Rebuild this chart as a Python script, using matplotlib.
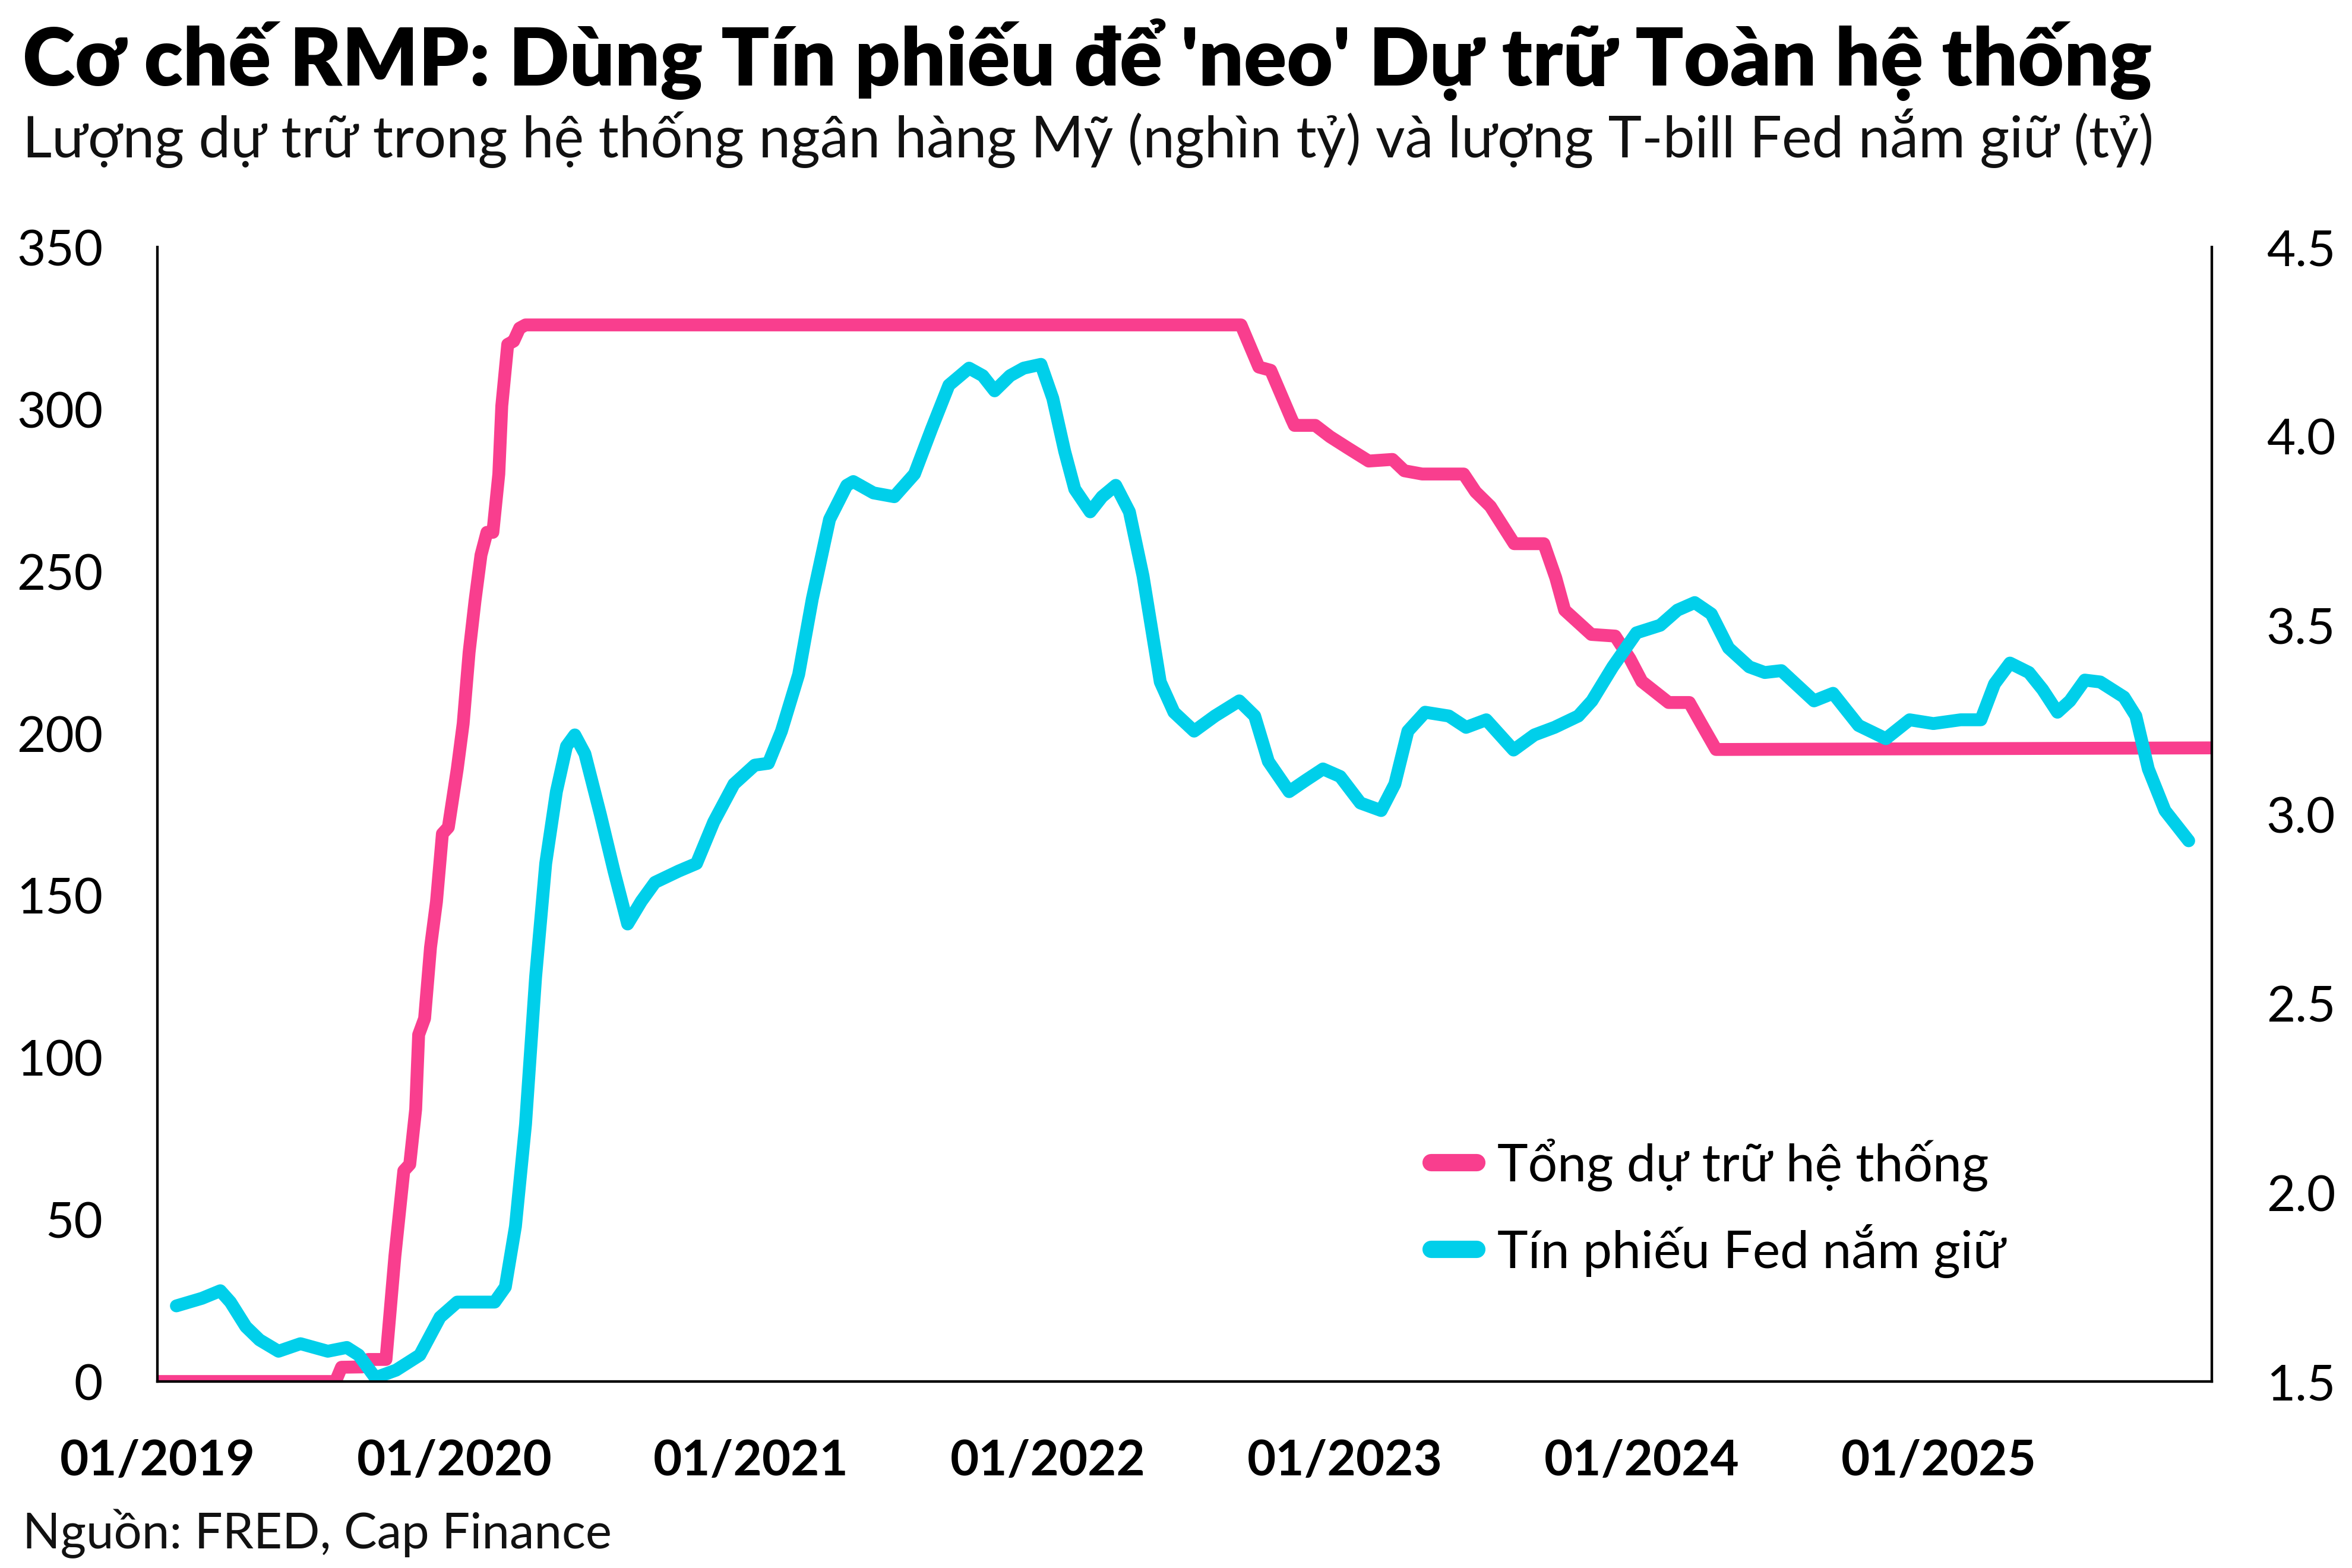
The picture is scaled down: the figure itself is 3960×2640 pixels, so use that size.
import matplotlib
matplotlib.use("Agg")
import matplotlib.pyplot as plt
from matplotlib.lines import Line2D

# --- data ---
# decimal year -> total reserves (left axis)
reserve_years = [2019.00, 2019.60, 2019.62, 2019.69, 2019.71, 2019.77, 2019.80, 2019.83,
                 2019.85, 2019.87, 2019.88, 2019.90, 2019.92, 2019.94, 2019.96, 2019.98,
                 2020.01, 2020.03, 2020.05, 2020.07, 2020.09, 2020.11, 2020.13, 2020.15,
                 2020.16, 2020.18, 2020.20, 2020.22, 2020.24, 2022.65, 2022.71, 2022.75,
                 2022.82, 2022.83, 2022.90, 2022.95, 2023.01, 2023.08, 2023.16, 2023.20,
                 2023.26, 2023.40, 2023.44, 2023.49, 2023.57, 2023.67, 2023.71, 2023.74,
                 2023.83, 2023.91, 2023.96, 2024.00, 2024.09, 2024.16, 2024.20, 2024.25,
                 2025.92]
reserve_vals = [0, 0, 4.4, 4.5, 6.8, 6.8, 38.7, 65,
                67, 84, 107, 112, 134, 148, 169, 171,
                189, 203, 225, 241, 255, 262, 262, 280,
                301, 320, 321, 325, 326, 326, 313, 312,
                297, 295, 295, 291.5, 288, 284, 284.5, 281,
                280, 280, 274.5, 270, 258.5, 258.5, 248, 238,
                230.5, 230, 223, 216, 209.5, 209.5, 203, 195,
                195.5]

# decimal year -> T-bills held by Fed (right axis)
tbill_years = [2019.064, 2019.150, 2019.212, 2019.246, 2019.298, 2019.344, 2019.408, 2019.482,
               2019.574, 2019.638, 2019.678, 2019.734, 2019.804, 2019.884, 2019.952, 2020.010,
               2020.080, 2020.136, 2020.172, 2020.206, 2020.240, 2020.274, 2020.308, 2020.344,
               2020.378, 2020.406, 2020.440, 2020.492, 2020.538, 2020.584, 2020.630, 2020.676,
               2020.756, 2020.816, 2020.874, 2020.942, 2021.012, 2021.058, 2021.102, 2021.160,
               2021.206, 2021.264, 2021.322, 2021.344, 2021.412, 2021.482, 2021.550, 2021.608,
               2021.666, 2021.734, 2021.780, 2021.820, 2021.872, 2021.918, 2021.976, 2022.016,
               2022.056, 2022.090, 2022.142, 2022.182, 2022.228, 2022.274, 2022.320, 2022.378,
               2022.424, 2022.492, 2022.562, 2022.644, 2022.696, 2022.742, 2022.812, 2022.868,
               2022.926, 2022.984, 2023.052, 2023.122, 2023.168, 2023.212, 2023.270, 2023.350,
               2023.408, 2023.476, 2023.522, 2023.568, 2023.638, 2023.706, 2023.786, 2023.832,
               2023.902, 2023.982, 2024.062, 2024.120, 2024.178, 2024.234, 2024.292, 2024.362,
               2024.414, 2024.470, 2024.580, 2024.644, 2024.730, 2024.822, 2024.902, 2024.982,
               2025.074, 2025.142, 2025.188, 2025.240, 2025.304, 2025.350, 2025.400, 2025.442,
               2025.492, 2025.544, 2025.624, 2025.664, 2025.706, 2025.762, 2025.842]
tbill_vals = [1.70, 1.72, 1.74, 1.71, 1.645, 1.61, 1.58, 1.60,
              1.58, 1.59, 1.57, 1.51, 1.53, 1.57, 1.67, 1.71,
              1.71, 1.71, 1.75, 1.91, 2.18, 2.57, 2.87, 3.06,
              3.18, 3.21, 3.16, 3.00, 2.85, 2.71, 2.77, 2.82,
              2.85, 2.87, 2.98, 3.08, 3.13, 3.135, 3.22, 3.37,
              3.57, 3.78, 3.87, 3.88, 3.85, 3.84, 3.90, 4.02,
              4.135, 4.18, 4.16, 4.12, 4.16, 4.18, 4.19, 4.10,
              3.96, 3.86, 3.80, 3.84, 3.87, 3.80, 3.63, 3.35,
              3.27, 3.22, 3.26, 3.30, 3.26, 3.14, 3.06, 3.09,
              3.12, 3.10, 3.03, 3.01, 3.08, 3.22, 3.27, 3.26,
              3.23, 3.25, 3.21, 3.17, 3.21, 3.23, 3.26, 3.30,
              3.39, 3.48, 3.50, 3.54, 3.56, 3.53, 3.44, 3.39,
              3.375, 3.38, 3.30, 3.32, 3.235, 3.20, 3.25, 3.24,
              3.25, 3.25, 3.345, 3.40, 3.375, 3.33, 3.27, 3.30,
              3.355, 3.35, 3.31, 3.26, 3.12, 3.01, 2.93]

year_ticks = [2019, 2020, 2021, 2022, 2023, 2024, 2025]
year_labels = ["01/2019", "01/2020", "01/2021", "01/2022", "01/2023", "01/2024", "01/2025"]
left_ticks = [0, 50, 100, 150, 200, 250, 300, 350]
right_ticks = [1.5, 2.0, 2.5, 3.0, 3.5, 4.0, 4.5]

title = "Cơ chế RMP: Dùng Tín phiếu để 'neo' Dự trữ Toàn hệ thống"
subtitle = "Lượng dự trữ trong hệ thống ngân hàng Mỹ (nghìn tỷ) và lượng T-bill Fed nắm giữ (tỷ)"
source = "Nguồn: FRED, Cap Finance"
label_res = "Tổng dự trữ hệ thống"
label_tb = "Tín phiếu Fed nắm giữ"

PINK = "#F93E8E"
CYAN = "#00CFEA"
FONT = "Lato"

plt.rcParams["font.family"] = [FONT, "DejaVu Sans"]

fig = plt.figure(figsize=(13.203, 8.803), dpi=300)
ax = fig.add_axes([0.0669, 0.1189, 0.8733, 0.7232])
ax2 = ax.twinx()

ax.plot(reserve_years, reserve_vals, color=PINK, lw=5.2, solid_joinstyle="round",
        solid_capstyle="butt")
ax2.plot(tbill_years, tbill_vals, color=CYAN, lw=5.2, solid_joinstyle="round",
         solid_capstyle="round")

ax.set_xlim(2019, 2025.92)
ax.set_ylim(0, 350)
ax2.set_ylim(1.5, 4.5)

ax.set_xticks(year_ticks)
ax.set_xticklabels(year_labels, fontsize=20, fontweight="bold")
ax.set_yticks(left_ticks)
ax.set_yticklabels([str(t) for t in left_ticks], fontsize=20)
ax2.set_yticks(right_ticks)
ax2.set_yticklabels([f"{t:.1f}" for t in right_ticks], fontsize=20)

ax.tick_params(axis="both", length=0)
ax.tick_params(axis="y", pad=22)
ax.tick_params(axis="x", pad=23)
ax2.tick_params(axis="y", length=0, pad=22)

for a in (ax, ax2):
    a.spines["top"].set_visible(False)
    for s in ("left", "right", "bottom"):
        a.spines[s].set_linewidth(1.0)
        a.spines[s].set_color("black")

handles = [Line2D([], [], color=PINK, lw=7, solid_capstyle="round"),
           Line2D([], [], color=CYAN, lw=7, solid_capstyle="round")]
fig.legend(handles, [label_res, label_tb], loc="center left",
           bbox_to_anchor=(0.6083, 0.2297), frameon=False, fontsize=21,
           handlelength=0.88, handletextpad=0.4, labelspacing=0.63,
           borderpad=0, borderaxespad=0)

fig.text(0.0096, 0.9455, title, fontsize=32.2, fontweight="heavy", va="baseline")
fig.text(0.0096, 0.8997, subtitle, fontsize=23, fontweight="normal", color="#111111",
         va="baseline")
fig.text(0.0096, 0.0129, source, fontsize=20, fontweight="normal", color="#111111",
         va="baseline")

fig.savefig("out.png", dpi=300)
